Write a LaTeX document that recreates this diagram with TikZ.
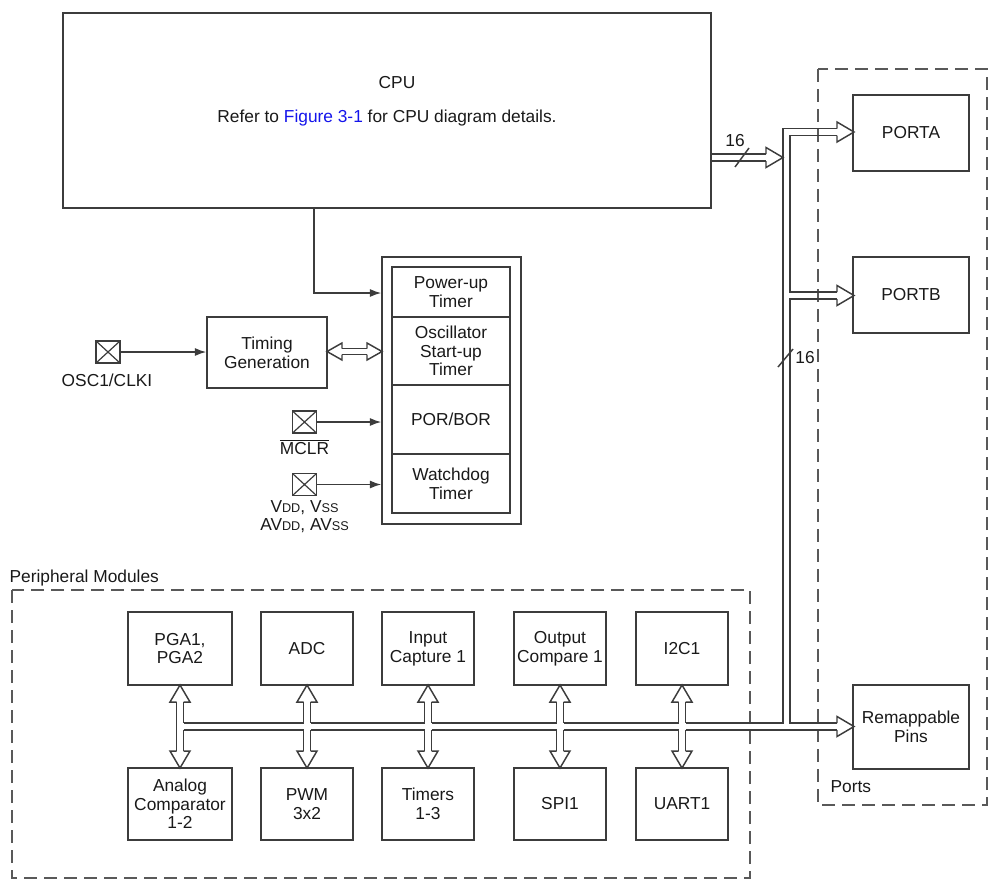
\documentclass[tikz,border=0pt]{standalone}
\usepackage{fontspec}
\setmainfont{Liberation Sans}
\usetikzlibrary{arrows.meta,calc}
\definecolor{figline}{RGB}{60,60,60}
\definecolor{figtext}{RGB}{25,25,25}
\definecolor{figlink}{RGB}{20,20,235}
\tikzset{
  blk/.style  ={draw=figline, line width=1.1pt, align=center, text=figtext, inner sep=1pt, font=\fontsize{13}{14}\selectfont},
  lab/.style  ={text=figtext, inner sep=1pt, align=center, font=\fontsize{13}{14}\selectfont},
  grp/.style  ={draw=figline!85, line width=1pt, dash pattern=on 10pt off 5pt},
  bus/.style  ={draw=figline, line width=1.1pt},
  sig/.style  ={draw=figline, line width=1.1pt, -{Latex[length=8.5pt,width=6pt]}},
  pin/.style  ={draw=figline, line width=0.9pt, minimum width=18pt, minimum height=16.5pt, inner sep=0pt,
                path picture={\draw[figline,line width=0.9pt]
                  (path picture bounding box.south west) -- (path picture bounding box.north east)
                  (path picture bounding box.north west) -- (path picture bounding box.south east);}},
  bushd/.pic  ={\draw[bus] (0,-3.5) -- (0,-10) -- (17,0) -- (0,10) -- (0,3.5);},
  smlhd/.pic  ={\draw[bus] (0,-3) -- (0,-8.5) -- (15,0) -- (0,8.5) -- (0,3);},
}

\begin{document}
\begin{tikzpicture}[x=0.75pt,y=-0.75pt]
  \useasboundingbox (0,0) rectangle (998,890);
  % CPU
  \node[blk, minimum width=486pt, minimum height=146.25pt] (cpu) at (387,110.5) {};
  \node[lab] (cputitle) at (397,83) {CPU};
  \node[lab] (cpuref) at (387,118) {Refer to \textcolor{figlink}{Figure 3-1} for CPU diagram details.};
  % ports
  \draw[grp] (818,69) rectangle (987,805);
  \node[lab,anchor=west] (portlab) at (829,787) {Ports};
  \node[blk, minimum width=87pt, minimum height=57pt] (porta) at (911,133) {PORTA};
  \node[blk, minimum width=87pt, minimum height=57pt] (portb) at (911,295) {PORTB};
  \node[blk, minimum width=87pt, minimum height=63pt] (remap) at (911,727) {Remappable\\Pins};
  % reset and timers
  \node[blk, minimum width=104.25pt, minimum height=200.25pt] (frame) at (451.5,390.5) {};
  \node[blk, minimum width=88.5pt, minimum height=37.5pt] (pwrup) at (451,292) {Power-up\\Timer};
  \node[blk, minimum width=88.5pt, minimum height=51pt] (ost) at (451,351) {Oscillator\\Start-up\\Timer};
  \node[blk, minimum width=88.5pt, minimum height=51.75pt] (porbor) at (451,419.5) {POR/BOR};
  \node[blk, minimum width=88.5pt, minimum height=44.25pt] (wdt) at (451,483.5) {Watchdog\\Timer};
  \node[blk, minimum width=90pt, minimum height=53.25pt] (timgen) at (267,352.5) {Timing\\Generation};
  \coordinate (cpuo) at (314,208);
  \draw[sig] (cpuo) |- (frame.west |- 0,293);
  % pins
  \node[pin] (oscpin) at (108,352) {};
  \node[lab] (osclab) at (107,380) {OSC1/CLKI};
  \node[pin] (mclrpin) at (304.5,422) {};
  \node[lab] (mclrlab) at (304.5,447) {$\overline{\hbox{MCLR}}$};
  \node[pin] (vddpin) at (304.5,484.5) {};
  \node[lab] (vddlab) at (304.5,508) {V{\fontsize{9.5}{10}\selectfont DD}, V{\fontsize{9.5}{10}\selectfont SS}};
  \node[lab] (avddlab) at (304.5,526) {AV{\fontsize{9.5}{10}\selectfont DD}, AV{\fontsize{9.5}{10}\selectfont SS}};
  \draw[sig] (oscpin.east) -- (oscpin.east -| timgen.west);
  \draw[sig] (mclrpin.east) -- (mclrpin.east -| frame.west);
  \draw[sig] (vddpin.east) -- (vddpin.east -| frame.west);
  % timing link
  \draw[bus] (342,348.5) -- (367,348.5);
  \draw[bus] (342,354.5) -- (367,354.5);
  \pic[rotate=180] at (342,351.5) {smlhd};
  \pic at (367,351.5) {smlhd};
  % peripheral modules
  \draw[grp] (12,590) rectangle (750,878);
  \node[lab,anchor=west] (perlab) at (8,578) {Peripheral Modules};
  \node[blk, minimum width=78pt, minimum height=54.75pt] (pga) at (180,648.5) {PGA1,\\PGA2};
  \node[blk, minimum width=69pt, minimum height=54.75pt] (adc) at (307,648.5) {ADC};
  \node[blk, minimum width=69pt, minimum height=54.75pt] (icap) at (428,648.5) {Input\\Capture 1};
  \node[blk, minimum width=69pt, minimum height=54.75pt] (ocmp) at (560,648.5) {Output\\Compare 1};
  \node[blk, minimum width=69pt, minimum height=54.75pt] (iic) at (682,648.5) {I2C1};
  \node[blk, minimum width=78pt, minimum height=54pt] (acmp) at (180,804) {Analog\\Comparator\\1-2};
  \node[blk, minimum width=69pt, minimum height=54pt] (pwm) at (307,804) {PWM\\3x2};
  \node[blk, minimum width=69pt, minimum height=54pt] (tmr) at (428,804) {Timers\\1-3};
  \node[blk, minimum width=69pt, minimum height=54pt] (spi) at (560,804) {SPI1};
  \node[blk, minimum width=69pt, minimum height=54pt] (uart) at (682,804) {UART1};
  % peripheral bus
  \foreach \a/\b in {183.5/303.5, 310.5/424.5, 431.5/556.5, 563.5/678.5} {
    \draw[bus] (\a,723) -- (\b,723);
    \draw[bus] (\a,730) -- (\b,730);
  }
  \draw[bus] (176.5,702) -- (176.5,751);
  \draw[bus] (183.5,702) -- (183.5,723);
  \draw[bus] (183.5,730) -- (183.5,751);
  \foreach \c in {307,428,560,682} {
    \draw[bus] ({\c-3.5},702) -- ({\c-3.5},723);
    \draw[bus] ({\c+3.5},702) -- ({\c+3.5},723);
    \draw[bus] ({\c-3.5},730) -- ({\c-3.5},751);
    \draw[bus] ({\c+3.5},730) -- ({\c+3.5},751);
  }
  \foreach \c in {180,307,428,560,682} {
    \pic[rotate=90] at (\c,702) {bushd};
    \pic[rotate=-90] at (\c,751) {bushd};
  }
  % main bus
  \draw[bus] (685.5,723) -- (783,723) -- (783,128.5) -- (837,128.5);
  \draw[bus] (837,135.5) -- (790,135.5) -- (790,292) -- (837,292);
  \draw[bus] (837,299) -- (790,299) -- (790,723) -- (837,723);
  \draw[bus] (685.5,730) -- (837,730);
  \pic at (837,132) {bushd};
  \pic at (837,295.5) {bushd};
  \pic at (837,726.5) {bushd};
  \draw[bus] (711,154) -- (766,154);
  \draw[bus] (711,161) -- (766,161);
  \pic at (766,157.5) {bushd};
  % bus widths
  \draw[bus] (735,167) -- (749,148);
  \node[lab] (cpuw) at (735,141) {16};
  \draw[bus] (778,367) -- (793,349);
  \node[lab] (busw) at (805,358) {16};
\end{tikzpicture}
\end{document}
